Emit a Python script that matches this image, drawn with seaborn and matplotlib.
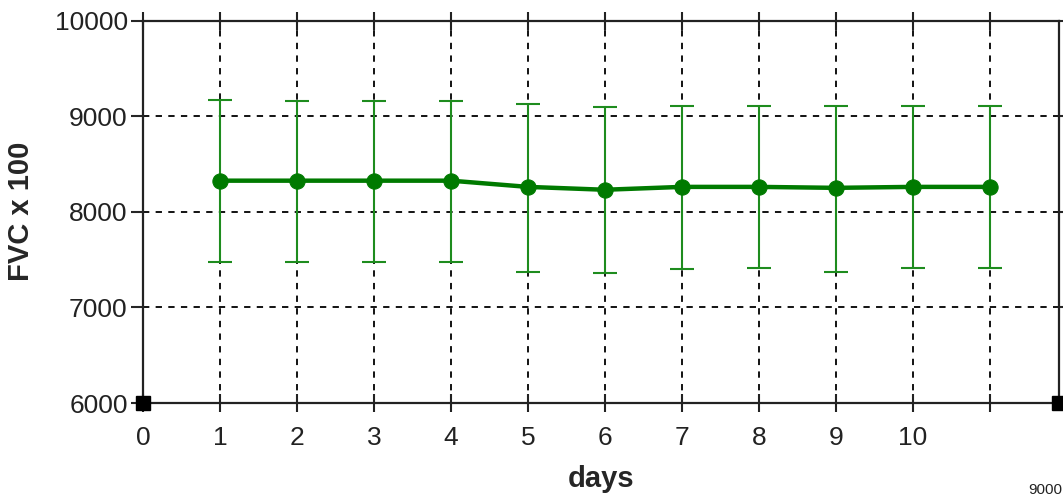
import matplotlib
matplotlib.use("Agg")
import matplotlib.pyplot as plt
import seaborn as sns
import pandas as pd

days = [1, 2, 3, 4, 5, 6, 7, 8, 9, 10, 11]
fvc_mean = [8325, 8325, 8325, 8325, 8260, 8230, 8260, 8260, 8250, 8260, 8260]
fvc_upper = [9170, 9155, 9155, 9155, 9130, 9100, 9110, 9110, 9110, 9110, 9110]
fvc_lower = [7475, 7475, 7475, 7475, 7370, 7355, 7400, 7415, 7375, 7415, 7415]
xtick_pos = [0, 1, 2, 3, 4, 5, 6, 7, 8, 9, 10, 11]
xtick_labels = ["0", "1", "2", "3", "4", "5", "6", "7", "8", "9", "10", ""]
ytick_pos = [6000, 7000, 8000, 9000, 10000]

df = pd.DataFrame({"days": days, "fvc": fvc_mean,
                   "lo": fvc_lower, "hi": fvc_upper})

sns.set_style("white")
plt.rcParams["font.family"] = ["Liberation Sans", "DejaVu Sans"]

fig = plt.figure(figsize=(10.63, 4.98), dpi=100)
ax = fig.add_axes([143 / 1063, 1 - 403 / 498, (1059 - 143) / 1063, (403 - 20.5) / 498])

# error bars
ax.errorbar(df["days"], df["fvc"],
            yerr=[df["fvc"] - df["lo"], df["hi"] - df["fvc"]],
            fmt="none", ecolor="#1e8c1e", elinewidth=1.5,
            capsize=8.5, capthick=1.5, zorder=3)

sns.lineplot(data=df, x="days", y="fvc", ax=ax, color="#007a00",
             linewidth=3.2, marker="o", markersize=11,
             markeredgecolor="#007a00", zorder=4)

ax.set_xlim(0, 11.9)
ax.set_ylim(6000, 10000)
ax.set_xticks(xtick_pos)
ax.set_xticklabels(xtick_labels)
ax.set_yticks(ytick_pos)

ax.grid(True, color="black", linestyle=(0, (3.5, 3.5)), linewidth=1.3)
ax.set_axisbelow(True)

for s in ax.spines.values():
    s.set_visible(True)
    s.set_color("#222222")
    s.set_linewidth(1.6)

ax.tick_params(axis="x", direction="inout", length=13, width=1.5,
               top=True, bottom=True, labelsize=19, pad=10, colors="#222222",
               labelcolor="#222222")
ax.tick_params(axis="y", direction="out", length=9, width=1.5,
               left=True, right=True, labelsize=19, pad=2,
               labelcolor="#222222")

ax.set_xlabel("days", fontsize=21, fontweight="bold", labelpad=11)
ax.set_ylabel("FVC x 100", fontsize=21, fontweight="bold", labelpad=14)

# corner handles
ax.plot([0, 11.9], [6000, 6000], marker="s", markersize=10, color="black",
        linestyle="none", clip_on=False, zorder=6)

fig.text(1028 / 1063, 1 / 498, "9000", fontsize=11, color="#222222",
         ha="left", va="bottom")

fig.savefig("out.png", dpi=100)
